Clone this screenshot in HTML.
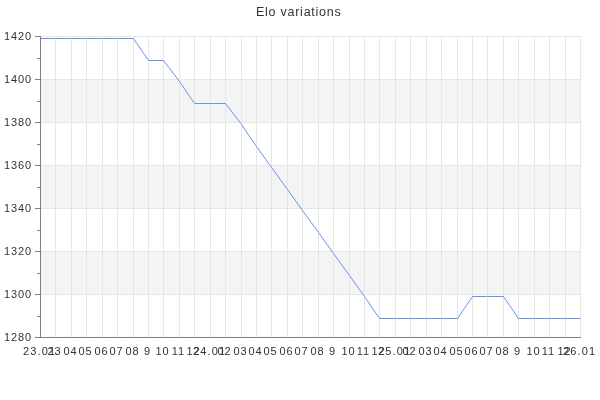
<!DOCTYPE html>
<html><head><meta charset="utf-8"><title>Elo variations</title>
<style>
html,body{margin:0;padding:0;background:#fff;}
body{width:600px;height:400px;position:relative;overflow:hidden;font-family:"Liberation Sans",sans-serif;color:#333333;}
svg{position:absolute;left:0;top:0;}
.t{position:absolute;left:0;top:0;width:597.5px;text-align:center;font-size:12.5px;line-height:14px;letter-spacing:0.75px;white-space:nowrap;will-change:transform;}
.y{position:absolute;left:0;width:31.2px;will-change:transform;text-align:right;font-size:11px;line-height:12px;height:12px;white-space:nowrap;}
.y span,.x span{letter-spacing:0.9px;margin-right:-0.9px;}
.x{position:absolute;top:345px;width:60px;margin-left:-31.1px;will-change:transform;text-align:center;font-size:11px;line-height:12px;height:12px;white-space:nowrap;}
.x span.d{letter-spacing:1.15px;margin-right:-1.15px;}
</style></head><body>
<svg width="600" height="400" viewBox="0 0 600 400">
<rect x="41" y="80" width="540" height="42" fill="#f4f4f4" shape-rendering="crispEdges"/>
<rect x="41" y="166" width="540" height="42" fill="#f4f4f4" shape-rendering="crispEdges"/>
<rect x="41" y="252" width="540" height="42" fill="#f4f4f4" shape-rendering="crispEdges"/>
<g stroke="#e6e6e6" stroke-width="1" shape-rendering="crispEdges">
<line x1="41" y1="36.5" x2="581" y2="36.5"/>
<line x1="41" y1="79.5" x2="581" y2="79.5"/>
<line x1="41" y1="122.5" x2="581" y2="122.5"/>
<line x1="41" y1="165.5" x2="581" y2="165.5"/>
<line x1="41" y1="208.5" x2="581" y2="208.5"/>
<line x1="41" y1="251.5" x2="581" y2="251.5"/>
<line x1="41" y1="294.5" x2="581" y2="294.5"/>
<line x1="55.5" y1="36" x2="55.5" y2="337"/>
<line x1="71.5" y1="36" x2="71.5" y2="337"/>
<line x1="86.5" y1="36" x2="86.5" y2="337"/>
<line x1="102.5" y1="36" x2="102.5" y2="337"/>
<line x1="117.5" y1="36" x2="117.5" y2="337"/>
<line x1="133.5" y1="36" x2="133.5" y2="337"/>
<line x1="148.5" y1="36" x2="148.5" y2="337"/>
<line x1="163.5" y1="36" x2="163.5" y2="337"/>
<line x1="179.5" y1="36" x2="179.5" y2="337"/>
<line x1="194.5" y1="36" x2="194.5" y2="337"/>
<line x1="210.5" y1="36" x2="210.5" y2="337"/>
<line x1="225.5" y1="36" x2="225.5" y2="337"/>
<line x1="241.5" y1="36" x2="241.5" y2="337"/>
<line x1="256.5" y1="36" x2="256.5" y2="337"/>
<line x1="271.5" y1="36" x2="271.5" y2="337"/>
<line x1="287.5" y1="36" x2="287.5" y2="337"/>
<line x1="302.5" y1="36" x2="302.5" y2="337"/>
<line x1="318.5" y1="36" x2="318.5" y2="337"/>
<line x1="333.5" y1="36" x2="333.5" y2="337"/>
<line x1="349.5" y1="36" x2="349.5" y2="337"/>
<line x1="364.5" y1="36" x2="364.5" y2="337"/>
<line x1="379.5" y1="36" x2="379.5" y2="337"/>
<line x1="395.5" y1="36" x2="395.5" y2="337"/>
<line x1="410.5" y1="36" x2="410.5" y2="337"/>
<line x1="426.5" y1="36" x2="426.5" y2="337"/>
<line x1="441.5" y1="36" x2="441.5" y2="337"/>
<line x1="457.5" y1="36" x2="457.5" y2="337"/>
<line x1="472.5" y1="36" x2="472.5" y2="337"/>
<line x1="487.5" y1="36" x2="487.5" y2="337"/>
<line x1="503.5" y1="36" x2="503.5" y2="337"/>
<line x1="518.5" y1="36" x2="518.5" y2="337"/>
<line x1="534.5" y1="36" x2="534.5" y2="337"/>
<line x1="549.5" y1="36" x2="549.5" y2="337"/>
<line x1="565.5" y1="36" x2="565.5" y2="337"/>
<line x1="580.5" y1="36" x2="580.5" y2="337"/>
</g>
<polyline fill="none" stroke="#6495ed" stroke-width="1" stroke-linejoin="round" points="40.50,38.5 55.50,38.5 71.50,38.5 86.50,38.5 102.50,38.5 117.50,38.5 133.50,38.5 148.50,60.5 163.50,60.5 179.50,81.5 194.50,103.5 210.50,103.5 225.50,103.5 241.50,124.5 256.50,146.5 271.50,167.5 287.50,189.5 302.50,210.5 318.50,232.5 333.50,253.5 349.50,275.5 364.50,296.5 379.50,318.5 395.50,318.5 410.50,318.5 426.50,318.5 441.50,318.5 457.50,318.5 472.50,296.5 487.50,296.5 503.50,296.5 518.50,318.5 534.50,318.5 549.50,318.5 565.50,318.5 580.50,318.5"/>
<g stroke="#808080" stroke-width="1" shape-rendering="crispEdges">
<line x1="40.5" y1="36" x2="40.5" y2="338"/>
<line x1="40" y1="337.5" x2="581" y2="337.5"/>
<line x1="35" y1="36.5" x2="40" y2="36.5"/>
<line x1="35" y1="79.5" x2="40" y2="79.5"/>
<line x1="35" y1="122.5" x2="40" y2="122.5"/>
<line x1="35" y1="165.5" x2="40" y2="165.5"/>
<line x1="35" y1="208.5" x2="40" y2="208.5"/>
<line x1="35" y1="251.5" x2="40" y2="251.5"/>
<line x1="35" y1="294.5" x2="40" y2="294.5"/>
<line x1="35" y1="337.5" x2="40" y2="337.5"/>
<line x1="37" y1="58.5" x2="40" y2="58.5"/>
<line x1="37" y1="101.5" x2="40" y2="101.5"/>
<line x1="37" y1="144.5" x2="40" y2="144.5"/>
<line x1="37" y1="187.5" x2="40" y2="187.5"/>
<line x1="37" y1="230.5" x2="40" y2="230.5"/>
<line x1="37" y1="273.5" x2="40" y2="273.5"/>
<line x1="37" y1="316.5" x2="40" y2="316.5"/>
</g>
</svg>
<div class="t" style="top:5px">Elo variations</div>
<div class="y" style="top:30px"><span>1420</span></div>
<div class="y" style="top:73px"><span>1400</span></div>
<div class="y" style="top:116px"><span>1380</span></div>
<div class="y" style="top:159px"><span>1360</span></div>
<div class="y" style="top:202px"><span>1340</span></div>
<div class="y" style="top:245px"><span>1320</span></div>
<div class="y" style="top:288px"><span>1300</span></div>
<div class="y" style="top:331px"><span>1280</span></div>
<div class="x" style="left:40.0px"><span class="d">23.01</span></div>
<div class="x" style="left:55.4px"><span>23</span></div>
<div class="x" style="left:70.9px"><span>04</span></div>
<div class="x" style="left:86.3px"><span>05</span></div>
<div class="x" style="left:101.7px"><span>06</span></div>
<div class="x" style="left:117.1px"><span>07</span></div>
<div class="x" style="left:132.6px"><span>08</span></div>
<div class="x" style="left:148.0px"><span>9</span></div>
<div class="x" style="left:163.4px"><span>10</span></div>
<div class="x" style="left:178.9px"><span>11</span></div>
<div class="x" style="left:194.3px"><span>12</span></div>
<div class="x" style="left:209.7px"><span class="d">24.01</span></div>
<div class="x" style="left:225.1px"><span>02</span></div>
<div class="x" style="left:240.6px"><span>03</span></div>
<div class="x" style="left:256.0px"><span>04</span></div>
<div class="x" style="left:271.4px"><span>05</span></div>
<div class="x" style="left:286.9px"><span>06</span></div>
<div class="x" style="left:302.3px"><span>07</span></div>
<div class="x" style="left:317.7px"><span>08</span></div>
<div class="x" style="left:333.1px"><span>9</span></div>
<div class="x" style="left:348.6px"><span>10</span></div>
<div class="x" style="left:364.0px"><span>11</span></div>
<div class="x" style="left:379.4px"><span>12</span></div>
<div class="x" style="left:394.9px"><span class="d">25.01</span></div>
<div class="x" style="left:410.3px"><span>02</span></div>
<div class="x" style="left:425.7px"><span>03</span></div>
<div class="x" style="left:441.1px"><span>04</span></div>
<div class="x" style="left:456.6px"><span>05</span></div>
<div class="x" style="left:472.0px"><span>06</span></div>
<div class="x" style="left:487.4px"><span>07</span></div>
<div class="x" style="left:502.9px"><span>08</span></div>
<div class="x" style="left:518.3px"><span>9</span></div>
<div class="x" style="left:533.7px"><span>10</span></div>
<div class="x" style="left:549.1px"><span>11</span></div>
<div class="x" style="left:564.6px"><span>12</span></div>
<div class="x" style="left:580.0px"><span class="d">26.01</span></div>
</body></html>
